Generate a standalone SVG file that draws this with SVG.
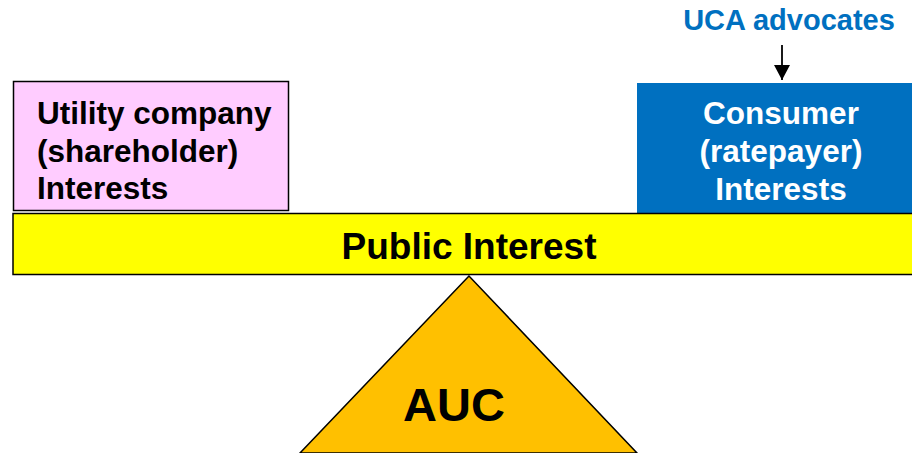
<svg xmlns="http://www.w3.org/2000/svg" width="912" height="453" viewBox="0 0 912 453">
<style>
text{font-family:"Liberation Sans",Arial,sans-serif;font-weight:bold}
.blk{fill:#000}
.wht{fill:#fff}
</style>
<defs>
<marker id="ah" markerWidth="15" markerHeight="16" refX="15" refY="8" orient="auto" markerUnits="userSpaceOnUse" viewBox="0 0 15 16">
<path d="M0,0 L15,8 L0,16 Z" fill="#000"/>
</marker>
</defs>
<rect width="912" height="453" fill="#fff"/>
<g id="auc">
<polygon points="469,276 300,453 637,453" fill="#FFC000" stroke="#000" stroke-width="1.5"/>
<text x="454" y="421" font-size="47" text-anchor="middle" class="blk">AUC</text>
</g>
<g id="utility">
<rect x="13.5" y="81.5" width="275" height="129" fill="#FFCCFF" stroke="#000" stroke-width="1.5"/>
<text font-size="31.5" class="blk"><tspan x="37" y="124">Utility company</tspan><tspan x="37" y="162">(shareholder)</tspan><tspan x="37" y="199">Interests</tspan></text>
</g>
<g id="consumer">
<rect x="637" y="83" width="276" height="131" fill="#0070C0"/>
<text font-size="31.5" text-anchor="middle" class="wht"><tspan x="781" y="124">Consumer</tspan><tspan x="781" y="162">(ratepayer)</tspan><tspan x="781" y="200">Interests</tspan></text>
</g>
<g id="public">
<rect x="13" y="213.5" width="905" height="61" fill="#FFFF00" stroke="#000" stroke-width="1.5"/>
<text x="469" y="259" font-size="37" text-anchor="middle" class="blk">Public Interest</text>
</g>
<g id="uca">
<text x="789" y="30" font-size="29" text-anchor="middle" fill="#0070C0">UCA advocates</text>
</g>
<g id="connectors">
<line x1="782" y1="45" x2="782" y2="80" stroke="#000" stroke-width="1.8" marker-end="url(#ah)"/>
</g>
</svg>
